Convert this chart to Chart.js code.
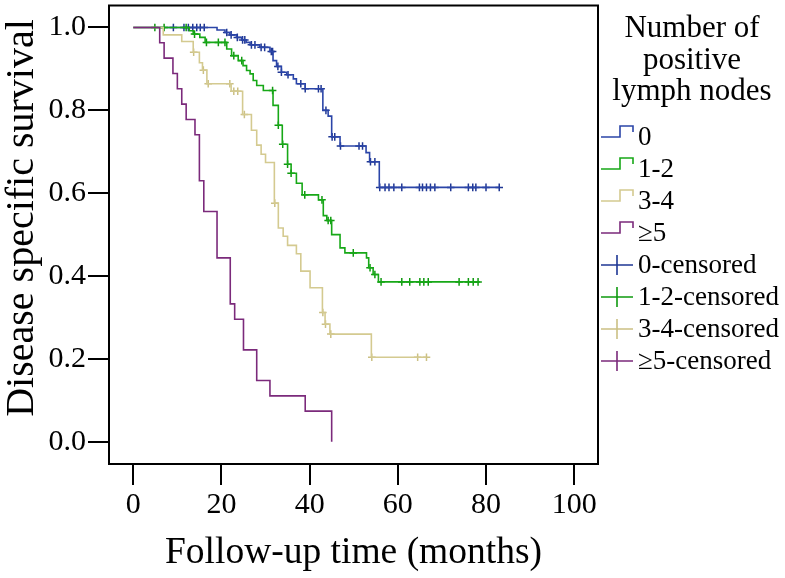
<!DOCTYPE html>
<html>
<head>
<meta charset="utf-8">
<script src="https://cdn.jsdelivr.net/npm/chart.js@4.4.0/dist/chart.umd.min.js"></script>
<style>
  body { margin: 0; background: #fff; }
</style>
</head>
<body>
<canvas id="km" width="785" height="578"></canvas>
<script>
// Kaplan-Meier curves: event times (months) and survival after each step
const groups = ['0', '1-2', '3-4', '\u22655'];

const blueTimes = [0, 19.0, 20.8, 21.9, 23.4, 24.6, 25.6, 26.5, 28.7, 31.0, 31.7, 32.5, 33.6, 34.8, 36.3, 37.0, 39.0, 43.0, 44.2, 45.0, 46.9, 52.8, 53.6, 55.8, 83.0];
const blueSurv = [1, 0.994, 0.988, 0.982, 0.976, 0.970, 0.964, 0.958, 0.952, 0.942, 0.920, 0.906, 0.892, 0.886, 0.876, 0.864, 0.852, 0.800, 0.786, 0.736, 0.714, 0.698, 0.676, 0.614, 0.614];
const blueCensored = [9.1, 11.5, 12.5, 13.5, 14.4, 15.2, 16.1, 21.2, 22.2, 23.6, 24.8, 25.3, 26.8, 27.6, 29.0, 29.8, 31.3, 31.6, 32.8, 33.6, 35.1, 38.0, 39.0, 42.0, 42.6, 43.7, 45.1, 45.7, 47.0, 51.2, 52.0, 53.8, 54.8, 55.9, 57.1, 58.0, 59.1, 60.9, 64.9, 65.6, 66.5, 67.4, 68.4, 72.0, 76.0, 77.0, 77.7, 80.0, 83.0];

const greenTimes = [0, 12.7, 13.6, 15.1, 16.3, 21.2, 22.3, 23.8, 24.9, 25.7, 26.5, 27.2, 28.0, 29.5, 31.7, 32.9, 33.8, 35.0, 35.8, 37.0, 38.3, 42.0, 43.1, 43.9, 45.0, 46.9, 48.0, 52.9, 53.4, 54.4, 55.6, 78.6];
const greenSurv = [1, 0.992, 0.984, 0.976, 0.964, 0.948, 0.932, 0.920, 0.908, 0.896, 0.888, 0.872, 0.860, 0.848, 0.812, 0.764, 0.718, 0.670, 0.648, 0.624, 0.596, 0.584, 0.546, 0.534, 0.500, 0.468, 0.456, 0.444, 0.420, 0.404, 0.386, 0.386];
const greenCensored = [4.9, 7.0, 12.0, 13.9, 16.6, 19.3, 20.8, 22.8, 24.6, 31.6, 32.9, 33.9, 35.0, 35.8, 38.9, 42.8, 44.2, 44.8, 49.9, 53.7, 54.8, 56.2, 60.9, 62.7, 65.0, 65.9, 66.9, 73.9, 76.0, 77.1, 78.2];

const tanTimes = [0, 6.8, 11.0, 13.6, 15.0, 15.7, 16.7, 22.2, 24.8, 26.8, 28.0, 29.0, 30.0, 32.0, 32.9, 34.0, 35.0, 37.0, 38.0, 40.1, 42.9, 43.5, 44.6, 54.0, 66.5];
const tanSurv = [1, 0.982, 0.966, 0.940, 0.915, 0.897, 0.864, 0.846, 0.790, 0.752, 0.716, 0.694, 0.674, 0.576, 0.516, 0.496, 0.474, 0.454, 0.412, 0.372, 0.312, 0.284, 0.260, 0.204, 0.204];
const tanCensored = [13.7, 15.9, 17.0, 21.9, 22.8, 23.7, 25.2, 32.1, 43.0, 43.6, 44.8, 54.1, 64.5, 66.5];

const purpleTimes = [0, 6, 7, 9, 10, 11, 12, 14, 15, 16, 19, 22, 23, 25, 28, 31, 39, 45];
const purpleSurv = [1, 0.963, 0.926, 0.889, 0.852, 0.815, 0.778, 0.741, 0.630, 0.556, 0.444, 0.333, 0.296, 0.222, 0.148, 0.111, 0.074, 0];
const purpleCensored = [];

const xTickValues = [0, 20, 40, 60, 80, 100];
const yTickValues = [0, 0.2, 0.4, 0.6, 0.8, 1.0];
const legendTitle = ['Number of', 'positive', 'lymph nodes'];
const yTitle = 'Disease specific survival';
const xTitle = 'Follow-up time (months)';

const colors = ['#2b45a8', '#17a817', '#d4ca90', '#7b2a7b'];
const markColors = ['#1f3794', '#0f9a0f', '#cbc084', '#7b2a7b'];
const serif = '"Liberation Serif", "Times New Roman", serif';

const curves = [
  [blueTimes, blueSurv, blueCensored],
  [greenTimes, greenSurv, greenCensored],
  [tanTimes, tanSurv, tanCensored],
  [purpleTimes, purpleSurv, purpleCensored]
];

// survival value of a curve at time t (right-continuous step)
const survAt = (times, surv, t) => {
  let s = surv[0];
  times.forEach((ti, i) => { if (ti <= t) s = surv[i]; });
  return s;
};

const datasets = [];
curves.forEach(([times, surv], i) => {
  datasets.push({
    label: groups[i],
    data: times.map((t, k) => ({ x: t, y: surv[k] })),
    stepped: true,
    borderColor: colors[i],
    borderWidth: 1.6,
    pointRadius: 0,
    fill: false,
    icon: 'step',
    order: 4 - i
  });
});
curves.forEach(([times, surv, cens], i) => {
  datasets.push({
    label: groups[i] + '-censored',
    data: cens.map(t => ({ x: t, y: survAt(times, surv, t) })),
    showLine: false,
    pointStyle: 'cross',
    pointRadius: 3.8,
    pointBorderWidth: 1.5,
    borderColor: markColors[i],
    backgroundColor: markColors[i],
    icon: 'cross',
    order: 4 - i
  });
});

// frame, rotated y title and the SPSS-style legend
const frameAndLegend = {
  id: 'frameAndLegend',
  afterDraw(chart) {
    const { ctx, chartArea: a } = chart;
    ctx.save();
    ctx.strokeStyle = '#000';
    ctx.lineWidth = 2;
    ctx.strokeRect(a.left, a.top, a.right - a.left, a.bottom - a.top);

    ctx.fillStyle = '#000';
    ctx.save();
    ctx.font = '40px ' + serif;
    ctx.translate(22, 218);
    ctx.rotate(-Math.PI / 2);
    ctx.textAlign = 'center';
    ctx.textBaseline = 'middle';
    ctx.fillText(yTitle, 0, 0);
    ctx.restore();

    ctx.font = '31px ' + serif;
    ctx.textAlign = 'center';
    ctx.textBaseline = 'alphabetic';
    legendTitle.forEach((line, i) => ctx.fillText(line, 692, 37 + i * 31.5));

    ctx.font = '27px ' + serif;
    ctx.textAlign = 'left';
    ctx.textBaseline = 'middle';
    ctx.lineWidth = 1.6;
    chart.data.datasets.forEach((ds, i) => {
      const c = 137 + i * 32;
      ctx.strokeStyle = ds.borderColor;
      ctx.beginPath();
      if (ds.icon === 'step') {
        ctx.moveTo(601, c);
        ctx.lineTo(620, c);
        ctx.lineTo(620, c - 11);
        ctx.lineTo(633, c - 11);
        ctx.lineTo(633, c - 5);
      } else {
        ctx.moveTo(601, c);
        ctx.lineTo(633, c);
        ctx.moveTo(617, c - 10);
        ctx.lineTo(617, c + 10);
      }
      ctx.stroke();
      ctx.fillStyle = '#000';
      ctx.fillText(ds.label, 638, c + 1);
    });
    ctx.restore();
  }
};

new Chart(document.getElementById('km'), {
  type: 'line',
  data: { datasets },
  plugins: [frameAndLegend],
  options: {
    responsive: false,
    animation: false,
    layout: { padding: { top: 3, right: 187, left: 0, bottom: 0 } },
    plugins: { legend: { display: false }, tooltip: { enabled: false } },
    scales: {
      x: {
        type: 'linear',
        min: -5.5,
        max: 105.4,
        afterBuildTicks: s => { s.ticks = xTickValues.map(v => ({ value: v })); },
        afterFit: s => { s.height = 114; s.paddingLeft = 0; s.paddingRight = 0; },
        border: { display: false },
        grid: { drawOnChartArea: false, drawTicks: true, tickLength: 21, color: '#000', lineWidth: 2 },
        ticks: { color: '#000', padding: 2, maxRotation: 0, font: { family: serif, size: 30 }, callback: v => String(v) },
        title: { display: true, text: xTitle, color: '#000', font: { family: serif, size: 37.5 }, padding: { top: 0, bottom: 2 } }
      },
      y: {
        type: 'linear',
        min: -0.0535,
        max: 1.053,
        afterBuildTicks: s => { s.ticks = yTickValues.map(v => ({ value: v })); },
        afterFit: s => { s.width = 109; s.paddingTop = 0; s.paddingBottom = 0; },
        border: { display: false },
        grid: { drawOnChartArea: false, drawTicks: true, tickLength: 21, color: '#000', lineWidth: 2 },
        ticks: { color: '#000', padding: 2, font: { family: serif, size: 30 }, callback: v => v.toFixed(1) }
      }
    }
  }
});
</script>
</body>
</html>
